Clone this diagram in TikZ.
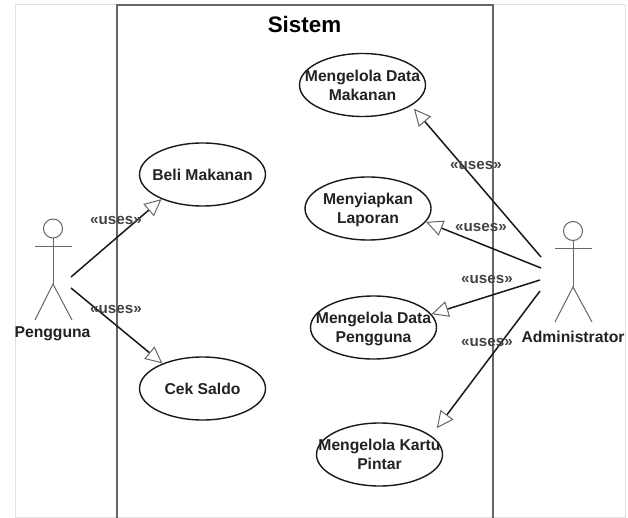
\documentclass[tikz,border=0pt]{standalone}
\usepackage{fontspec}
\setmainfont{Liberation Sans}
\usetikzlibrary{arrows.meta,shapes.geometric}
\definecolor{inkc}{HTML}{222222}
\definecolor{boxc}{HTML}{666666}
\definecolor{tipc}{HTML}{666666}
\definecolor{framec}{HTML}{E2E2E2}
\newcommand{\caseText}[1]{\makebox[0pt]{\smash{\raisebox{-0.36em}{\begin{tabular}{@{}c@{}}#1\end{tabular}}}}}
\tikzset{
  x=1pt,y=-1pt,
  txt/.style={font=\bfseries\fontsize{15.7}{19}\selectfont,text=inkc,inner sep=0pt},
  usecase/.style={ellipse,draw=black!90,line width=1.4pt,minimum width=126pt,minimum height=63pt,inner sep=0pt,txt},
  usesl/.style={font=\bfseries\fontsize{15.2}{18}\selectfont,text=inkc!85,inner sep=0pt},
  assoc/.style={draw=black!90,line width=1.5pt,-{Triangle[open,length=17pt,width=16pt,line width=1pt,color=tipc]}},
  limb/.style={draw=boxc,line width=1pt},
  head/.style={circle,draw=boxc,line width=1pt,minimum size=19pt,inner sep=0pt},
}
\begin{document}
\begin{tikzpicture}
\useasboundingbox (0,0) rectangle (628,518);
\fill[white] (0,0) rectangle (628,518);
\draw[framec,line width=0.8pt] (15,518) -- (15,4) -- (625,4) -- (625,518);
\draw[framec,line width=0.8pt] (15,517) -- (625,517);
\draw[boxc,line width=1.5pt] (117,518) -- (117,5) -- (493,5) -- (493,518);
\node[inner sep=0pt,font=\bfseries\fontsize{22.4}{26}\selectfont,text=black] (sys) at (304.5,24) {Sistem};

\node[usecase] (beli) at (202.5,174.5) {\caseText{Beli Makanan}};
\node[usecase] (cek) at (202.5,388.5) {\caseText{Cek Saldo}};
\node[usecase] (dmak) at (362.5,85) {\caseText{Mengelola Data\\Makanan}};
\node[usecase] (lap) at (368,208.5) {\caseText{Menyiapkan\\Laporan}};
\node[usecase] (dpen) at (373.5,327.5) {\caseText{Mengelola Data\\Pengguna}};
\node[usecase] (kartu) at (379.5,454.5) {\caseText{Mengelola Kartu\\Pintar}};

% Pengguna actor
\node[head] (phead) at (53,228.5) {};
\coordinate (phip) at (53,284);
\coordinate (pfl) at (35,320);
\coordinate (pfr) at (72,320);
\coordinate (pal) at (35,247);
\coordinate (par) at (72,247);
\draw[limb] (phead) -- (phip);
\draw[limb] (pal) -- (par);
\draw[limb] (pfl) -- (phip) -- (pfr);
\node[txt] (plabel) at (52.5,334) {Pengguna};

% Administrator actor
\node[head] (ahead) at (573,231) {};
\coordinate (ahip) at (573,287);
\coordinate (afl) at (555,322);
\coordinate (afr) at (592,322);
\coordinate (aal) at (555,249);
\coordinate (aar) at (592,249);
\draw[limb] (ahead) -- (ahip);
\draw[limb] (aal) -- (aar);
\draw[limb] (afl) -- (ahip) -- (afr);
\node[txt] (alabel) at (573,337) {Administrator};

% connector ends
\coordinate (p1) at (71,277);
\coordinate (p2) at (71,288);
\coordinate (a1) at (541,257);
\coordinate (a2) at (541,268);
\coordinate (a3) at (540,280);
\coordinate (a4) at (540,291);

\draw[assoc] (p1) -- (beli.211);
\draw[assoc] (p2) -- (cek.148);
\draw[assoc,shorten >=4pt] (a1) -- (dmak.-23.7);
\draw[assoc] (a2) -- (lap.-13.3);
\draw[assoc] (a3) -- (dpen.13);
\draw[assoc,shorten >=9.3pt] (a4) -- (kartu.20.6);

\node[usesl] (u1) at (116,220) {«uses»};
\node[usesl] (u2) at (116,309) {«uses»};
\node[usesl] (u3) at (476,165) {«uses»};
\node[usesl] (u4) at (481,227.5) {«uses»};
\node[usesl] (u5) at (487,279) {«uses»};
\node[usesl] (u6) at (487,342) {«uses»};
\end{tikzpicture}
\end{document}
